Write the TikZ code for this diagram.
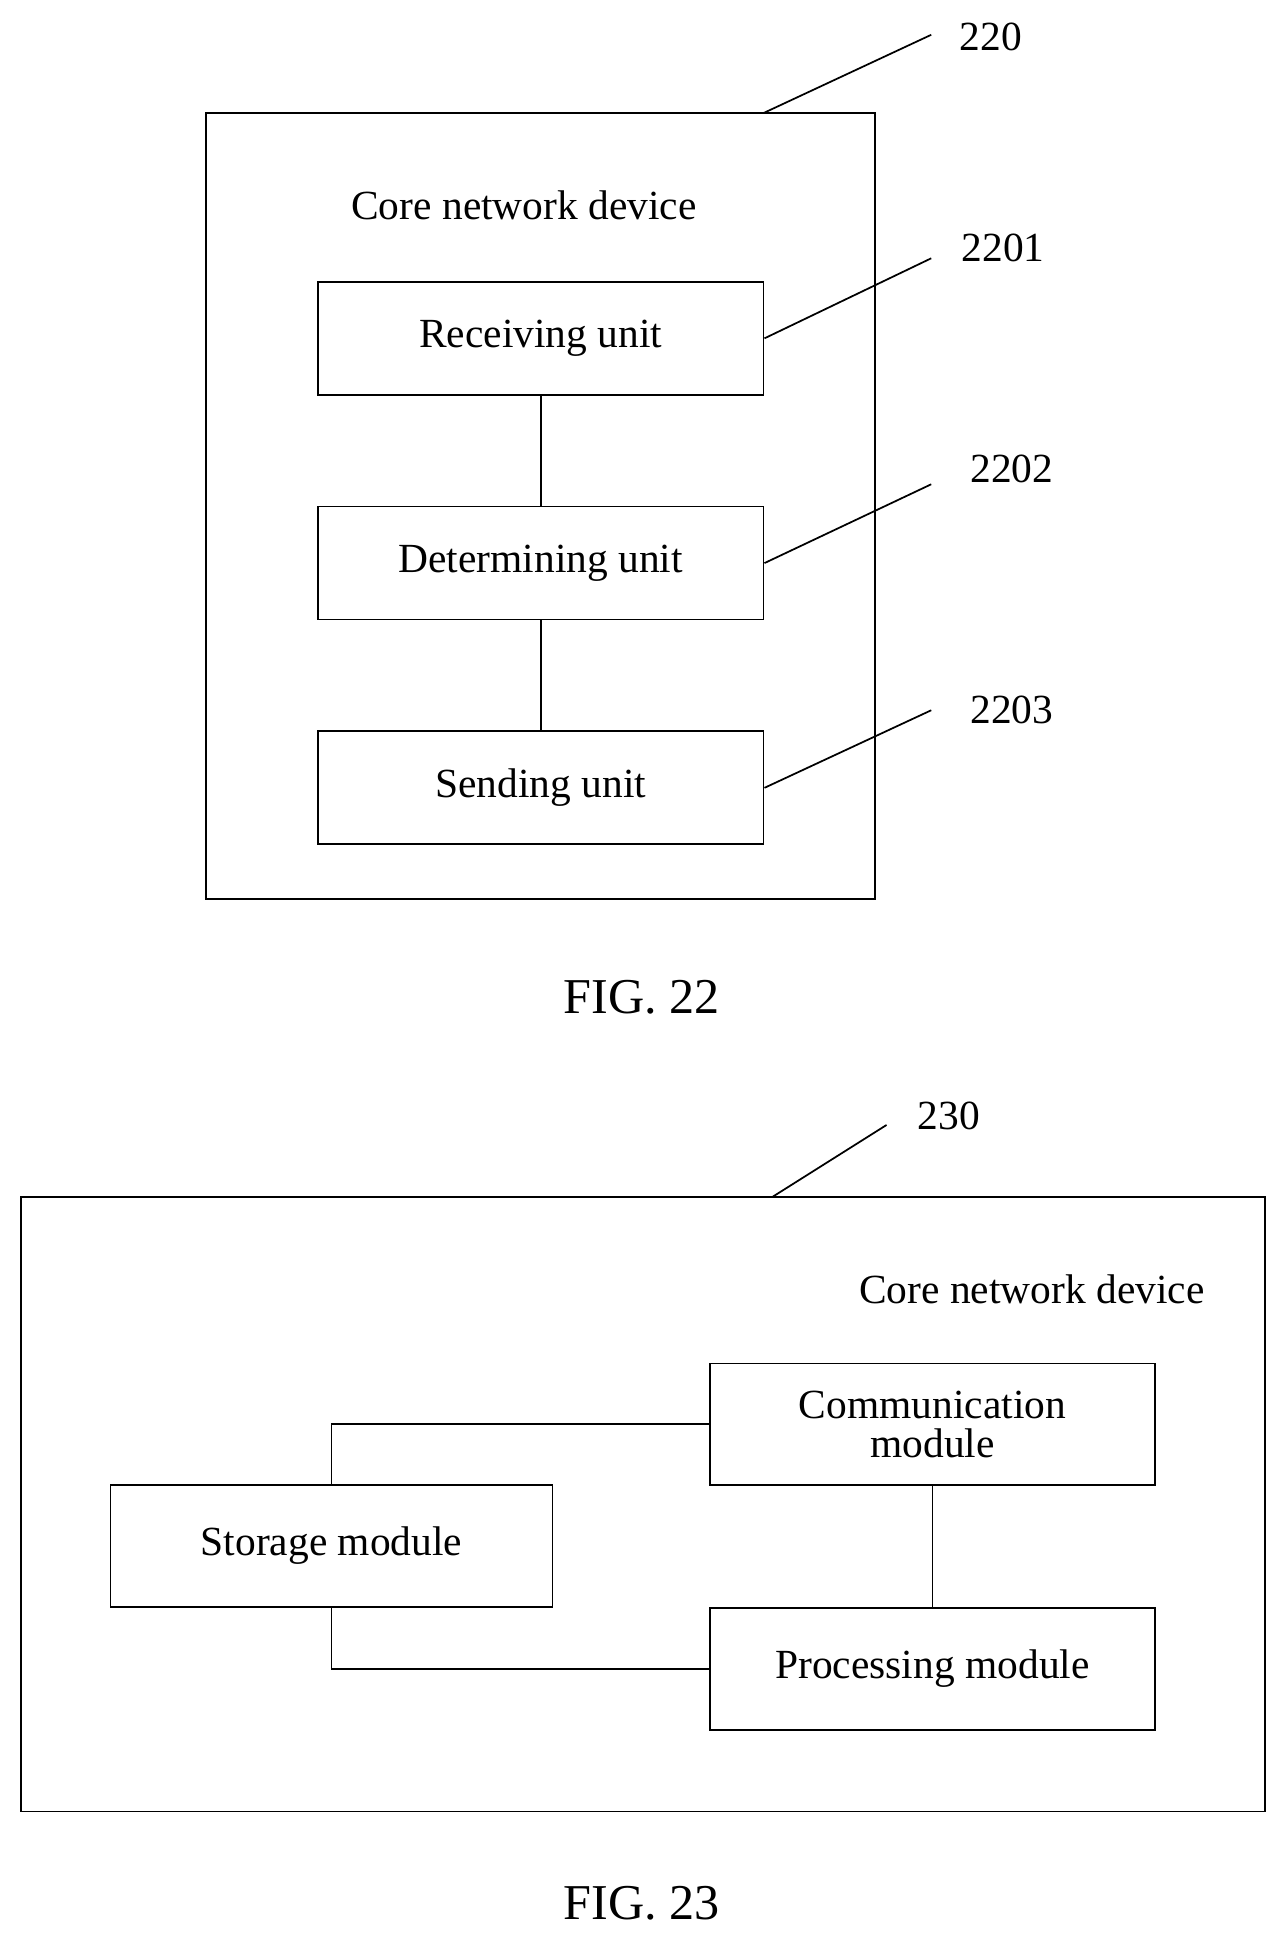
\documentclass[tikz,border=0pt]{standalone}
\usepackage{fontspec}
\setmainfont{Liberation Serif}
\usetikzlibrary{positioning}
\begin{document}
\begin{tikzpicture}
  [
   x=0.02cm, y=-0.02cm,
   every node/.style={font=\fontsize{19}{22}\selectfont},
   bx/.style={draw,thick,inner sep=0pt,minimum width=7.18cm,minimum height=1.82cm},
   mx/.style={draw,thick,inner sep=0pt,minimum width=7.16cm,minimum height=1.96cm,align=center},
   ln/.style={thick},
   fig/.style={font=\fontsize{23}{26}\selectfont}
  ]
   \useasboundingbox (0,0) rectangle (1030,1560);

   % FIG. 22
   \node[draw,thick,inner sep=0pt,minimum width=10.78cm,minimum height=12.66cm] (dev) at (435.5,407.5) {};
   \node (devt) at (422,165) {Core network device};
   \node[bx] (recv) at (435.5,272.5) {Receiving unit};
   \node[bx] (det)  at (435.5,453.5) {Determining unit};
   \node[bx] (send) at (435.5,634.5) {Sending unit};
   \draw[ln] (recv) -- (det);
   \draw[ln] (det) -- (send);

   \coordinate (c220) at (750,28);
   \coordinate (c2201) at (750,208);
   \coordinate (c2202) at (750,390);
   \coordinate (c2203) at (750,572);
   \node (l220) at (798,30) {220};
   \node (l2201) at (808,200) {2201};
   \node (l2202) at (815,378) {2202};
   \node (l2203) at (815,572) {2203};
   \draw[ln] (615,91) -- (c220);
   \draw[ln] (recv.east) -- (c2201);
   \draw[ln] (det.east) -- (c2202);
   \draw[ln] (send.east) -- (c2203);
   \node[fig] (f22) at (517,803) {FIG. 22};

   % FIG. 23
   \node[draw,thick,inner sep=0pt,minimum width=20.04cm,minimum height=9.9cm] (dev2) at (518,1211.5) {};
   \node (dev2t) at (831,1038) {Core network device};
   \node[mx] (comm) at (751,1147) {Communication\\[-4pt]module};
   \node[mx,minimum width=7.12cm] (stor) at (267,1245) {Storage module};
   \node[mx] (proc) at (751,1344) {Processing module};
   \draw[ln] (stor.north) |- (comm.west);
   \draw[ln] (stor.south) |- (proc.west);
   \draw[ln] (comm) -- (proc);

   \coordinate (c230) at (714,906);
   \node (l230) at (764,899) {230};
   \draw[ln] (622,964) -- (c230);
   \node[fig] (f23) at (517,1533) {FIG. 23};
\end{tikzpicture}
\end{document}
